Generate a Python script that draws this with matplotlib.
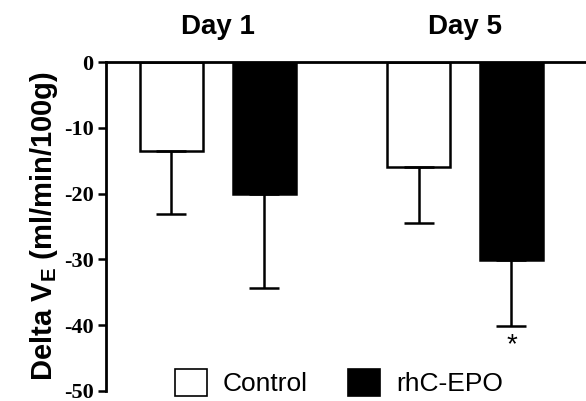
import numpy as np
import matplotlib
matplotlib.use('Agg')
import matplotlib.pyplot as plt
from matplotlib.patches import Patch

days = ['Day 1', 'Day 5']
groups = ['Control', 'rhC-EPO']
control_mean = [-13.5, -15.9]
control_err = [9.6, 8.6]
epo_mean = [-20.0, -30.1]
epo_err = [14.3, 10.0]
star_label = '*'

plt.rcParams['font.family'] = 'Liberation Sans'
plt.rcParams['axes.unicode_minus'] = False

fig = plt.figure(figsize=(5.86, 4.01), dpi=100)
ax = fig.add_axes([106 / 586, 1 - 391 / 401, 480 / 586, 329 / 401])

x = np.arange(len(days))
off = 0.188
w = 0.255
ekw = dict(elinewidth=1.8, capthick=1.8, ecolor='black')

ax.bar(x - off, control_mean, w, color='white', edgecolor='black', linewidth=1.8,
       yerr=[control_err, [0, 0]], capsize=11, error_kw=ekw, label=groups[0])
ax.bar(x + off, epo_mean, w, color='black', edgecolor='black', linewidth=1.8,
       yerr=[epo_err, [0, 0]], capsize=11, error_kw=ekw, label=groups[1])

ax.text(x[1] + off, epo_mean[1] - epo_err[1] - 3.0, star_label, ha='center', va='center',
        fontsize=20)

for xi, d in zip(x, days):
    ax.text(xi, 1.106, d, transform=ax.get_xaxis_transform(), ha='center', va='center',
            fontsize=20, fontweight='bold')

ax.set_xlim(-0.453, 1.49)
ax.set_ylim(-50, 0)
ax.set_yticks([0, -10, -20, -30, -40, -50])
ax.set_xticks([])
for lab in ax.get_yticklabels():
    lab.set_fontfamily('Liberation Serif')
    lab.set_fontweight('bold')
    lab.set_fontsize(16)
ax.tick_params(axis='y', length=6, width=1.8, pad=3)

ax.spines['right'].set_visible(False)
ax.spines['bottom'].set_visible(False)
ax.spines['top'].set_linewidth(2)
ax.spines['left'].set_linewidth(2)

ax.set_ylabel('Delta V$_\\mathregular{E}$ (ml/min/100g)', fontsize=21, fontweight='bold',
              labelpad=3)

handles = [Patch(facecolor='white', edgecolor='black', linewidth=1.2),
           Patch(facecolor='black', edgecolor='black', linewidth=1.2)]
fig.legend(handles, groups, loc='upper left', bbox_to_anchor=(175 / 586, 1 - 369 / 401),
           ncol=2, frameon=False, fontsize=19, handlelength=1.2, handleheight=1.2,
           handletextpad=0.6, columnspacing=1.55, borderpad=0, borderaxespad=0)

fig.savefig('out.png', dpi=100)
